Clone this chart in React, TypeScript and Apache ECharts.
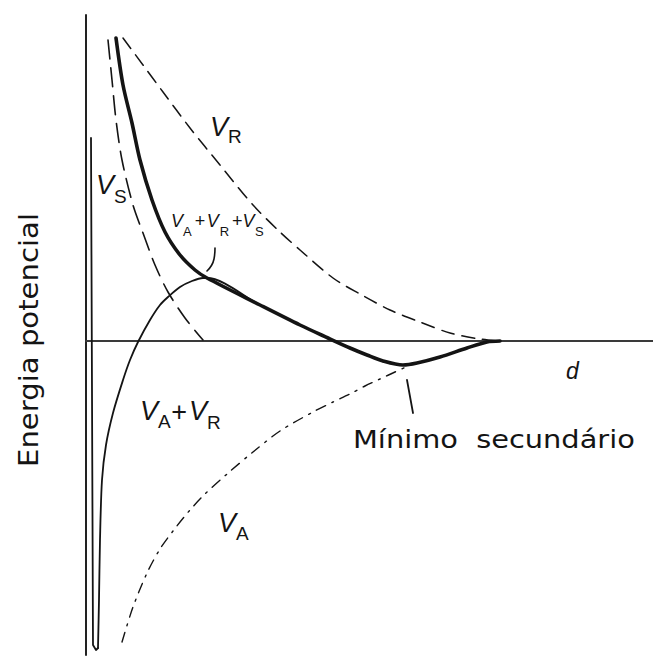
import React, { useEffect, useRef } from "react";
import * as echarts from "echarts";

const W = 653;
const H = 659;
const INK = "#141414";

// Schematic units: x = separation d, y = potential energy (0 on the d axis)
const X_MIN = 0;
const X_MAX = 567;
const Y_MIN = -314;
const Y_MAX = 326;

// V_A + V_R + V_S (thick)
const totalPotential: [number, number][] = [
  [30, 303], [37, 256], [46, 218], [54, 181], [66, 141], [79, 109], [94, 86], [109, 71], [121, 63],
  [174, 36], [214, 16], [242, 3], [264, -7], [281, -14], [297, -20], [317, -24], [331, -22],
  [354, -16], [381, -7], [401, -1], [414, 0],
];

// V_A + V_R: primary well (steep walls)
const primaryWell: [number, number][] = [
  [5, 203], [7, -304], [10, -309], [12, -307],
];

// V_A + V_R: rising branch, maximum and secondary minimum
const sumAR: [number, number][] = [
  [12, -307], [13, -259], [14, -199], [16, -139], [20, -104], [27, -72], [37, -39], [44, -19],
  [52, -1], [64, 21], [74, 36], [82, 44], [94, 54], [106, 60], [117, 63], [121, 63],
  [174, 36], [214, 16], [242, 3], [264, -7], [281, -14], [297, -20], [317, -24], [331, -22],
  [354, -16], [381, -7], [401, -1], [414, 0],
];

// V_S (steric)
const stericV: [number, number][] = [
  [22, 301], [26, 261], [30, 221], [36, 181], [47, 136], [57, 108], [69, 76], [82, 49], [99, 23], [117, 1],
];

// V_R (repulsive)
const repulsiveV: [number, number][] = [
  [37, 303], [57, 276], [77, 249], [104, 213], [134, 176], [167, 136], [194, 109], [214, 91],
  [247, 63], [274, 47], [304, 31], [334, 19], [364, 8], [394, 2], [414, 0],
];

// V_A (attractive)
const attractiveV: [number, number][] = [
  [36, -301], [47, -266], [61, -232], [74, -208], [87, -190], [104, -169], [119, -153], [141, -133],
  [167, -111], [194, -90], [227, -71], [247, -61], [264, -53], [279, -45], [294, -38], [309, -31], [322, -25],
];

// leader lines
const leaderTotal: [number, number][] = [[129, 93], [128, 82], [121, 70]];
const leaderMinimum: [number, number][] = [[321, -39], [327, -72]];

const FONT = "'Liberation Sans', Arial, sans-serif";

type Part = { t: string; size: number; italic?: boolean; dy?: number; kern?: number };
type SymLabel = { at: [number, number]; parts: Part[] };

const bigV = (kern = 0): Part => ({ t: "V", size: 27, italic: true, kern });
const bigSub = (t: string, dy: number): Part => ({ t, size: 19, dy });
const smallV = (kern = 0): Part => ({ t: "V", size: 18, italic: true, kern });
const smallSub = (t: string, kern = 0): Part => ({ t, size: 13, kern, dy: 10 });

const symbolLabels: SymLabel[] = [
  { at: [124, 214], parts: [bigV(), bigSub("R", 9)] },
  { at: [10, 156], parts: [bigV(), bigSub("S", 11)] },
  {
    at: [85, 120],
    parts: [
      smallV(), smallSub("A"), { t: "+", size: 18, kern: 3 },
      smallV(1.5), smallSub("R", 1), { t: "+", size: 18, kern: 3 },
      smallV(0), smallSub("S", 0.5),
    ],
  },
  {
    at: [54, -70],
    parts: [bigV(), bigSub("A", 10), { t: "+", size: 27, kern: 0.5, dy: 1 }, bigV(2), bigSub("R", 11)],
  },
  { at: [132, -182], parts: [bigV(), bigSub("A", 10)] },
];

type PlainLabel = { at: [number, number]; text: string; font: string; align?: string; rotation?: number; scaleX?: number; scaleY?: number };

const plainLabels: PlainLabel[] = [
  { at: [480, -30], text: "d", font: "italic 23px 'Liberation Sans', Arial, sans-serif" },
  { at: [267, -98], text: "Mínimo  secundário", font: "28px 'DejaVu Sans', sans-serif", scaleX: 1.03, scaleY: 0.88 },
  { at: [-57, 1], text: "Energia potencial", font: "28px 'DejaVu Sans', sans-serif", align: "center", rotation: Math.PI / 2, scaleX: 1.04, scaleY: 0.94 },
];

function curve(name: string, data: [number, number][], width: number, type: any, smooth: number, z: number) {
  return {
    type: "line",
    name,
    data,
    symbol: "none",
    showSymbol: false,
    smooth,
    clip: false,
    silent: true,
    z,
    lineStyle: { color: INK, width, type, cap: "round", join: "round" },
  };
}

function partFont(p: Part) {
  return `${p.italic ? "italic " : ""}${p.size}px ${FONT}`;
}

export default function App() {
  const ref = useRef<HTMLDivElement>(null);

  useEffect(() => {
    const el = ref.current!;
    const chart = echarts.init(el, undefined, { renderer: "svg", width: W, height: H });
    const hiddenAxis = {
      type: "value",
      axisTick: { show: false },
      axisLabel: { show: false },
      splitLine: { show: false },
    };
    chart.setOption({
      animation: false,
      backgroundColor: "#ffffff",
      grid: { left: 86, right: 0, top: 15, bottom: 4 },
      xAxis: { ...hiddenAxis, min: X_MIN, max: X_MAX, axisLine: { show: true, onZero: true, lineStyle: { color: "#3a3a3a", width: 2 } } },
      yAxis: { ...hiddenAxis, min: Y_MIN, max: Y_MAX, axisLine: { show: true, onZero: false, lineStyle: { color: "#222", width: 2 } } },
      series: [
        curve("V_R", repulsiveV, 1.5, [13, 8], 0.3, 2),
        curve("V_S", stericV, 1.6, [19, 9], 0.3, 2),
        curve("V_A", attractiveV, 1.4, [10, 7, 2, 7], 0.3, 2),
        curve("V_A+V_R well", primaryWell, 1.8, "solid", 0, 3),
        curve("V_A+V_R", sumAR, 1.8, "solid", 0.3, 3),
        curve("V_A+V_R+V_S", totalPotential, 3.6, "solid", 0.3, 4),
        curve("leader1", leaderTotal, 1.6, "solid", 0.5, 4),
        curve("leader2", leaderMinimum, 1.8, "solid", 0, 4),
      ],
    });

    const ctx = document.createElement("canvas").getContext("2d")!;
    const measure = (font: string, t: string) => {
      ctx.font = font;
      return ctx.measureText(t).width;
    };

    const graphic: any[] = [];
    symbolLabels.forEach((l) => {
      const [x, y] = chart.convertToPixel({ gridIndex: 0 }, l.at) as number[];
      let cursor = 0;
      const children = l.parts.map((p) => {
        cursor += p.kern || 0;
        const font = partFont(p);
        const child = {
          type: "text",
          x: cursor,
          y: p.dy || 0,
          silent: true,
          style: { text: p.t, font, fill: INK, align: "left", verticalAlign: "middle" },
        };
        cursor += measure(font, p.t);
        return child;
      });
      graphic.push({ type: "group", x, y, z: 10, silent: true, children });
    });
    plainLabels.forEach((l) => {
      const [x, y] = chart.convertToPixel({ gridIndex: 0 }, l.at) as number[];
      graphic.push({
        type: "text",
        x,
        y,
        rotation: l.rotation || 0,
        scaleX: l.scaleX || 1,
        scaleY: l.scaleY || 1,
        silent: true,
        z: 10,
        style: { text: l.text, font: l.font, fill: INK, align: l.align || "left", verticalAlign: "middle" },
      });
    });
    chart.setOption({ graphic });

    return () => chart.dispose();
  }, []);

  return (
    <div
      ref={ref}
      style={{ position: "absolute", left: 0, top: 0, width: W, height: H, background: "#fff" }}
    />
  );
}
